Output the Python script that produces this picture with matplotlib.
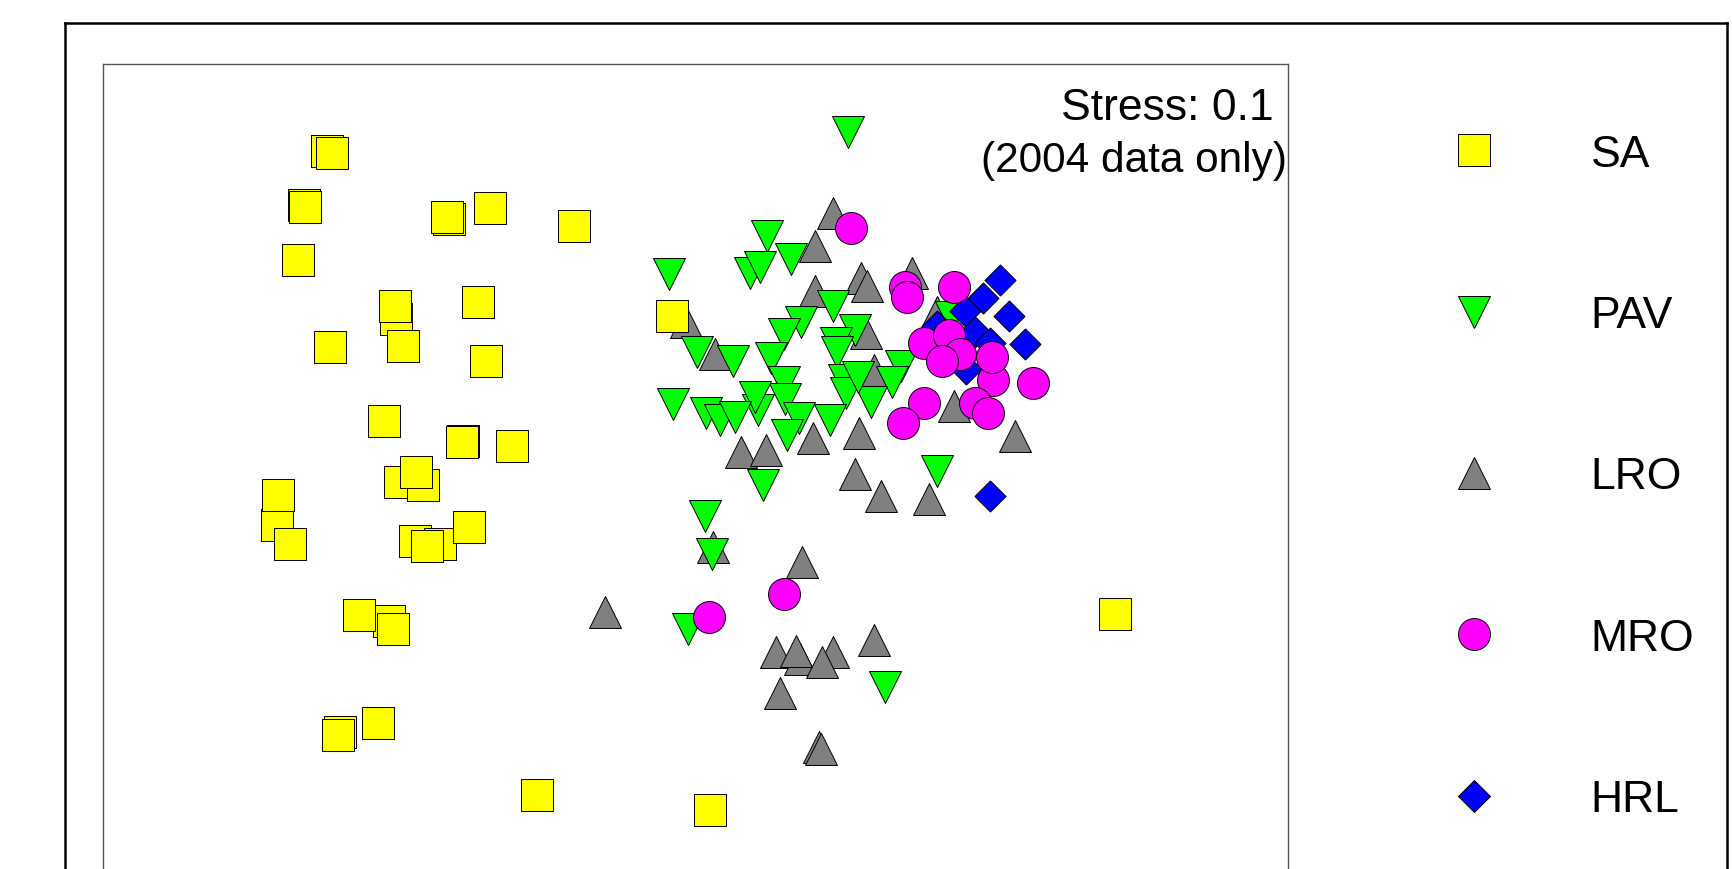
import matplotlib.pyplot as plt
from matplotlib.lines import Line2D

plt.rcParams['font.family'] = ['Liberation Sans', 'DejaVu Sans']

# MDS ordination positions (arbitrary units, axis 2 grows downwards)
sa_x = [327, 332, 304, 305, 298, 449, 447, 490, 574, 672, 396, 403, 395, 478, 330, 486,
        384, 463, 462, 512, 400, 423, 416, 277, 278, 290, 415, 440, 427, 469, 389, 393,
        359, 340, 338, 378, 537, 710, 1115]
sa_y = [152, 154, 206, 208, 261, 220, 218, 209, 227, 317, 320, 347, 307, 303, 348, 362,
        422, 442, 443, 447, 483, 486, 473, 526, 496, 545, 542, 545, 547, 528, 622, 630,
        616, 733, 736, 724, 796, 811, 615]

pav_x = [848, 767, 669, 750, 760, 791, 833, 801, 784, 855, 697, 733, 771, 836, 837, 784,
         785, 844, 846, 901, 892, 871, 758, 755, 673, 706, 720, 735, 799, 830, 787, 937,
         763, 705, 712, 688, 885, 951, 858]
pav_y = [133, 237, 275, 274, 268, 260, 307, 323, 335, 331, 353, 362, 359, 344, 353, 383,
         400, 381, 394, 367, 383, 403, 411, 398, 405, 414, 421, 418, 419, 421, 436, 472,
         486, 517, 555, 630, 688, 318, 378]

lro_x = [833, 815, 861, 867, 912, 815, 686, 866, 715, 874, 954, 1015, 741, 766, 813, 859,
         855, 881, 929, 713, 802, 605, 776, 800, 796, 833, 822, 874, 780, 819, 821, 937]
lro_y = [214, 247, 279, 287, 274, 292, 323, 334, 355, 371, 407, 437, 453, 451, 439, 434,
         475, 497, 500, 548, 563, 613, 653, 660, 652, 653, 663, 641, 694, 748, 750, 313]

mro_x = [851, 905, 907, 954, 924, 949, 960, 942, 993, 992, 1033, 924, 903, 975, 988, 784, 709]
mro_y = [229, 288, 298, 288, 344, 336, 355, 362, 381, 358, 384, 404, 424, 404, 414, 595, 618]

hrl_x = [1000, 983, 1009, 1025, 965, 937, 975, 990, 966, 990]
hrl_y = [281, 299, 317, 345, 312, 327, 333, 344, 370, 497]

groups = ['SA', 'PAV', 'LRO', 'MRO', 'HRL']
colors = {'SA': '#ffff00', 'PAV': '#00ff00', 'LRO': '#808080', 'MRO': '#ff00ff', 'HRL': '#0000ff'}
markers = {'SA': 's', 'PAV': 'v', 'LRO': '^', 'MRO': 'o', 'HRL': 'D'}
msize = {'SA': 22.5, 'PAV': 23, 'LRO': 23, 'MRO': 23, 'HRL': 15.8}
data = {'SA': (sa_x, sa_y), 'PAV': (pav_x, pav_y), 'LRO': (lro_x, lro_y),
        'MRO': (mro_x, mro_y), 'HRL': (hrl_x, hrl_y)}

W, H = 1733, 870
fig = plt.figure(figsize=(W / 100, H / 100), dpi=100)

# outer frame (runs off the bottom of the image)
frame = fig.add_axes([65 / W, 1 - 940 / H, (1727 - 65) / W, (940 - 24) / H])
frame.set_xticks([])
frame.set_yticks([])
for s in frame.spines.values():
    s.set_linewidth(1.8)
    s.set_color('black')

ax = fig.add_axes([103 / W, 1 - 920 / H, (1288 - 103) / W, (920 - 65) / H])
ax.set_xlim(103, 1288)
ax.set_ylim(920, 65)
ax.set_xticks([])
ax.set_yticks([])
for s in ax.spines.values():
    s.set_linewidth(1.0)
    s.set_color('#555555')

# drawing order so overlaps look like the original
for g in ['LRO', 'PAV', 'HRL', 'MRO', 'SA']:
    x, y = data[g]
    ax.scatter(x, y, marker=markers[g], s=msize[g] ** 2, c=colors[g],
               edgecolors='black', linewidths=0.7, zorder=3)

ax.text(1274, 120, 'Stress: 0.1', ha='right', va='baseline', fontsize=32)
ax.text(1287, 172, '(2004 data only)', ha='right', va='baseline', fontsize=30.5)

handles = [Line2D([], [], ls='', marker=markers[g], ms=msize[g], mfc=colors[g],
                  mec='black', mew=0.7) for g in groups]
fig.legend(handles, groups, loc='center left', bbox_to_anchor=(1429.6 / W, 1 - 478 / H),
           frameon=False, fontsize=32, labelspacing=2.71, handlelength=2.0,
           handletextpad=1.62, borderpad=0, borderaxespad=0)

fig.savefig('out.png', dpi=100)
